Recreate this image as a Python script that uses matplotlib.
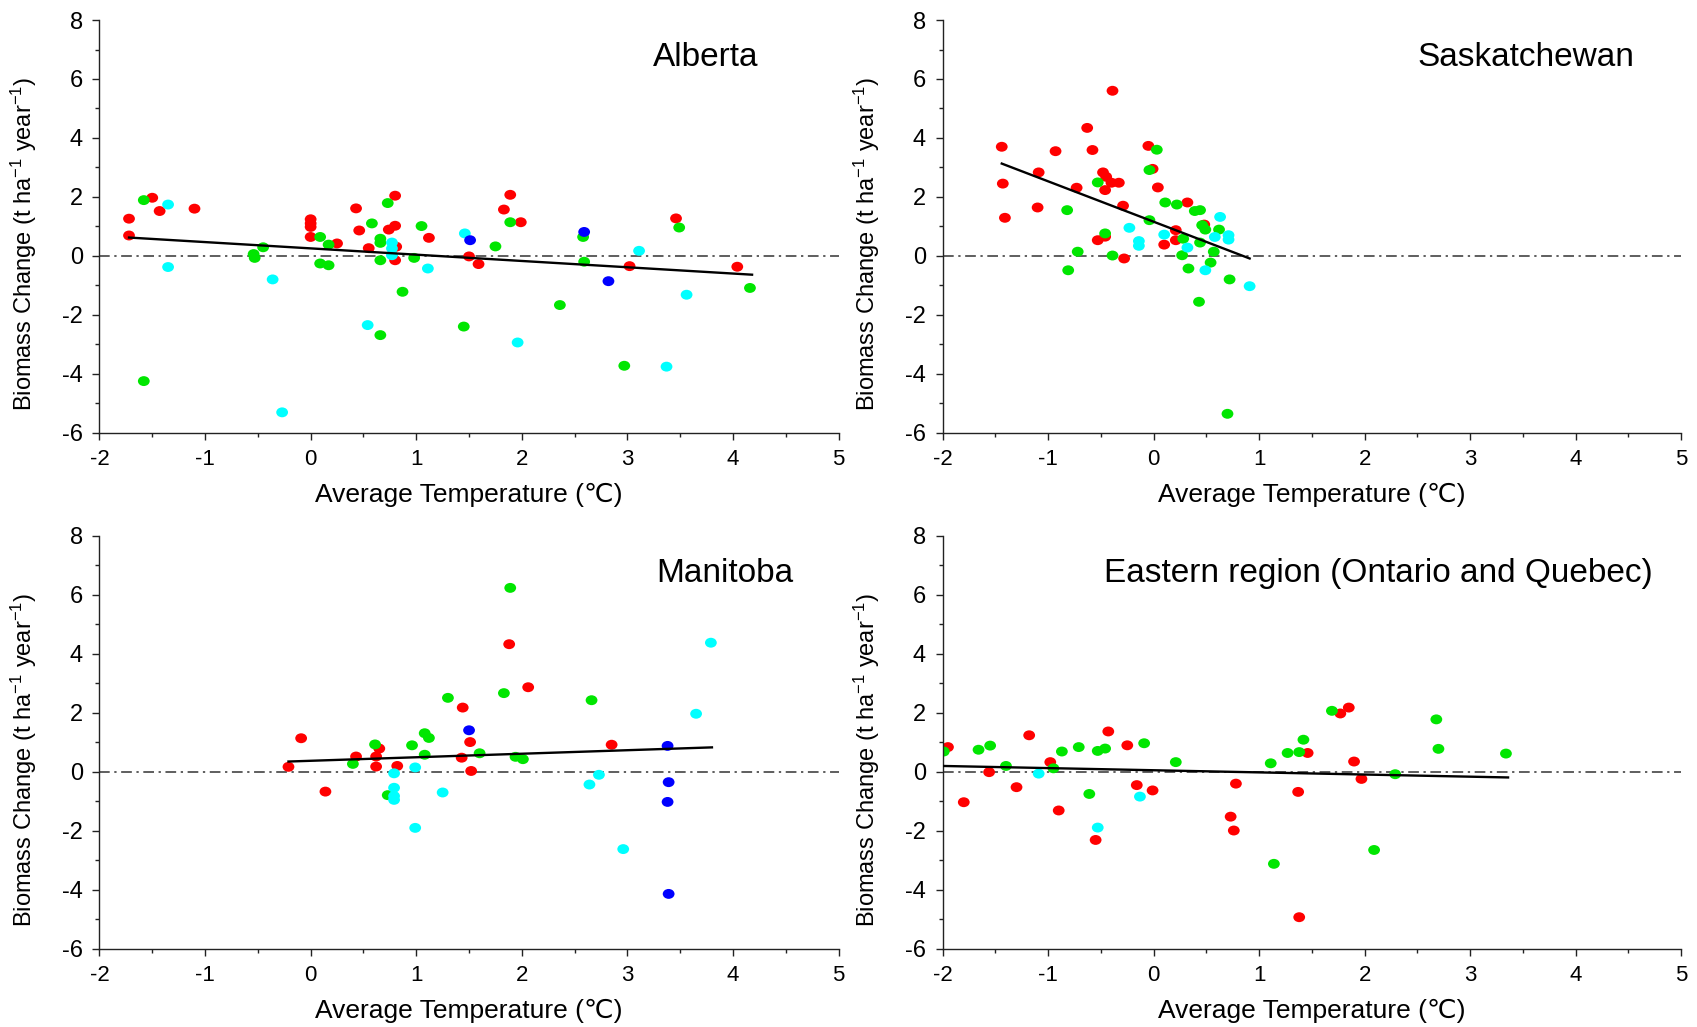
import matplotlib
matplotlib.use("Agg")
import matplotlib.pyplot as plt
from matplotlib.path import Path
from matplotlib.transforms import Affine2D
from matplotlib.ticker import MultipleLocator

plt.rcParams["font.family"] = ["Liberation Sans", "DejaVu Sans"]
plt.rcParams["mathtext.fontset"] = "custom"
plt.rcParams["mathtext.rm"] = "Liberation Sans"
plt.rcParams["mathtext.it"] = "Liberation Sans:italic"
plt.rcParams["axes.unicode_minus"] = False

# --- Alberta ---
ab_red_x = [-1.72, -1.72, -1.50, -1.43, -1.10, 0.00, 0.00, 0.00, 0.00, 0.25, 0.43, 0.46, 0.55, 0.74,
            0.80, 0.80, 0.81, 0.80, 1.12, 1.50, 1.59, 1.83, 1.89, 1.99, 3.02, 3.46, 4.04]
ab_red_y = [1.26, 0.69, 1.97, 1.52, 1.60, 1.24, 1.10, 0.98, 0.64, 0.42, 1.61, 0.86, 0.26, 0.89,
            2.04, 1.02, 0.31, -0.15, 0.61, -0.02, -0.28, 1.57, 2.07, 1.14, -0.35, 1.27, -0.37]
ab_green_x = [-1.58, -1.58, -0.54, -0.53, -0.45, 0.09, 0.09, 0.17, 0.17, 0.58, 0.66, 0.66, 0.66, 0.66,
              0.73, 0.87, 0.98, 1.05, 1.45, 1.75, 1.89, 2.36, 2.58, 2.59, 2.97, 3.49, 4.16]
ab_green_y = [1.89, -4.25, 0.06, -0.07, 0.29, 0.64, -0.26, 0.38, -0.32, 1.10, 0.58, 0.44, -0.15, -2.69,
              1.79, -1.22, -0.07, 1.01, -2.40, 0.32, 1.14, -1.67, 0.64, -0.20, -3.73, 0.96, -1.09]
ab_cyan_x = [-1.35, -1.35, -0.36, -0.27, 0.54, 0.77, 0.77, 0.77, 1.11, 1.46, 1.96, 3.11, 3.37, 3.56]
ab_cyan_y = [1.74, -0.38, -0.80, -5.31, -2.35, 0.45, 0.25, 0.02, -0.43, 0.76, -2.94, 0.17, -3.76, -1.32]
ab_blue_x = [1.51, 2.59, 2.82]
ab_blue_y = [0.53, 0.81, -0.86]
ab_fit_x = [-1.72, 4.18]
ab_fit_y = [0.62, -0.64]

# --- Saskatchewan ---
sk_red_x = [-1.44, -1.43, -1.41, -1.09, -1.10, -0.93, -0.73, -0.63, -0.58, -0.53, -0.48, -0.45, -0.46,
            -0.40, -0.39, -0.33, -0.29, -0.28, -0.05, -0.01, 0.04, 0.10, 0.21, 0.21, 0.32, 0.48, -0.46]
sk_red_y = [3.70, 2.45, 1.29, 2.83, 1.64, 3.55, 2.31, 4.34, 3.59, 0.53, 2.83, 2.68, 2.23,
            2.48, 5.60, 2.48, 1.70, -0.09, 3.73, 2.95, 2.32, 0.38, 0.87, 0.53, 1.81, 1.06, 0.65]
sk_green_x = [-0.82, -0.81, -0.72, -0.53, -0.46, -0.39, -0.04, -0.04, 0.03, 0.11, 0.22, 0.27, 0.28,
              0.33, 0.39, 0.44, 0.43, 0.44, 0.46, 0.49, 0.54, 0.57, 0.62, 0.72, 0.70]
sk_green_y = [1.55, -0.49, 0.14, 2.49, 0.76, 0.01, 2.91, 1.21, 3.60, 1.81, 1.74, 0.02, 0.58,
              -0.43, 1.52, 1.55, -1.56, 0.45, 1.04, 0.89, -0.23, 0.14, 0.89, -0.80, -5.36]
sk_cyan_x = [-0.23, -0.14, -0.14, 0.10, 0.32, 0.49, 0.63, 0.58, 0.71, 0.71, 0.91]
sk_cyan_y = [0.95, 0.50, 0.34, 0.72, 0.28, -0.49, 1.32, 0.64, 0.70, 0.55, -1.03]
sk_blue_x = []
sk_blue_y = []
sk_fit_x = [-1.44, 0.91]
sk_fit_y = [3.13, -0.09]

# --- Manitoba ---
mb_red_x = [-0.21, -0.09, 0.14, 0.43, 0.62, 0.65, 0.62, 0.82, 1.44, 1.43, 1.51, 1.52, 1.88, 2.06, 2.85]
mb_red_y = [0.17, 1.14, -0.67, 0.52, 0.52, 0.79, 0.18, 0.20, 2.18, 0.48, 1.01, 0.03, 4.33, 2.87, 0.92]
mb_green_x = [0.40, 0.61, 0.73, 0.96, 1.08, 1.12, 1.08, 1.30, 1.60, 1.83, 1.89, 1.94, 2.01, 2.66]
mb_green_y = [0.27, 0.93, -0.79, 0.90, 1.31, 1.15, 0.58, 2.51, 0.63, 2.67, 6.24, 0.51, 0.43, 2.43]
mb_cyan_x = [0.79, 0.79, 0.79, 0.79, 0.99, 0.99, 1.25, 2.64, 2.73, 2.96, 3.65, 3.79]
mb_cyan_y = [-0.05, -0.54, -0.82, -0.95, 0.15, -1.90, -0.70, -0.43, -0.10, -2.62, 1.97, 4.38]
mb_blue_x = [1.50, 3.38, 3.39, 3.38, 3.39]
mb_blue_y = [1.41, 0.88, -0.35, -1.02, -4.14]
mb_fit_x = [-0.21, 3.80]
mb_fit_y = [0.35, 0.83]

# --- Eastern region ---
er_red_x = [-1.95, -1.80, -1.56, -1.30, -1.18, -0.98, -0.90, -0.55, -0.43, -0.25, -0.16, -0.01,
            0.73, 0.76, 0.78, 1.37, 1.38, 1.46, 1.77, 1.85, 1.90, 1.97]
er_red_y = [0.84, -1.03, -0.01, -0.52, 1.24, 0.33, -1.31, -2.31, 1.37, 0.90, -0.45, -0.63,
            -1.52, -1.99, -0.40, -0.68, -4.93, 0.64, 1.98, 2.18, 0.35, -0.24]
er_green_x = [-1.99, -1.66, -1.55, -1.40, -0.95, -0.87, -0.71, -0.61, -0.53, -0.46, -0.09, 0.21,
              1.11, 1.14, 1.27, 1.38, 1.42, 1.69, 2.09, 2.29, 2.68, 2.70, 3.34]
er_green_y = [0.69, 0.75, 0.89, 0.20, 0.12, 0.69, 0.84, -0.75, 0.71, 0.79, 0.97, 0.33,
              0.29, -3.12, 0.64, 0.67, 1.09, 2.07, -2.65, -0.08, 1.78, 0.78, 0.62]
er_cyan_x = [-1.09, -0.13, -0.53]
er_cyan_y = [-0.06, -0.84, -1.89]
er_blue_x = []
er_blue_y = []
er_fit_x = [-2.00, 3.36]
er_fit_y = [0.20, -0.19]

RED, GREEN, CYAN, BLUE = "#ff0000", "#00e600", "#00ffff", "#0000ff"

fig = plt.figure(figsize=(16.97, 10.27), dpi=100)
ax_ab = fig.add_axes([0.0586, 0.5787, 0.4356, 0.4018])
ax_sk = fig.add_axes([0.5555, 0.5787, 0.4351, 0.4018])
ax_mb = fig.add_axes([0.0586, 0.0762, 0.4356, 0.4019])
ax_er = fig.add_axes([0.5555, 0.0762, 0.4351, 0.4019])

# Origin-style slightly flattened dots
ellipse = Path.unit_circle().transformed(Affine2D().scale(1.0, 0.84))

panels = [
    (ax_ab, "Alberta", 3.24,
     [(ab_red_x, ab_red_y, RED), (ab_green_x, ab_green_y, GREEN),
      (ab_cyan_x, ab_cyan_y, CYAN), (ab_blue_x, ab_blue_y, BLUE)], ab_fit_x, ab_fit_y),
    (ax_sk, "Saskatchewan", 2.50,
     [(sk_red_x, sk_red_y, RED), (sk_green_x, sk_green_y, GREEN),
      (sk_cyan_x, sk_cyan_y, CYAN), (sk_blue_x, sk_blue_y, BLUE)], sk_fit_x, sk_fit_y),
    (ax_mb, "Manitoba", 3.27,
     [(mb_red_x, mb_red_y, RED), (mb_green_x, mb_green_y, GREEN),
      (mb_cyan_x, mb_cyan_y, CYAN), (mb_blue_x, mb_blue_y, BLUE)], mb_fit_x, mb_fit_y),
    (ax_er, "Eastern region (Ontario and Quebec)", -0.47,
     [(er_red_x, er_red_y, RED), (er_green_x, er_green_y, GREEN),
      (er_cyan_x, er_cyan_y, CYAN), (er_blue_x, er_blue_y, BLUE)], er_fit_x, er_fit_y),
]

for ax, name, title_x, groups, fit_x, fit_y in panels:
    ax.axhline(0, color="#333333", lw=1.1, ls=(0, (7, 3, 1.5, 3)), zorder=1)
    for xs, ys, c in groups:
        if xs:
            ax.scatter(xs, ys, s=72, marker=ellipse, color=c, edgecolors="none", zorder=2)
    ax.plot(fit_x, fit_y, color="black", lw=1.7, zorder=3)

    ax.set_xlim(-2, 5)
    ax.set_ylim(-6, 8)
    ax.set_xticks(range(-2, 6))
    ax.set_yticks(range(-6, 9, 2))
    ax.xaxis.set_minor_locator(MultipleLocator(0.5))
    ax.yaxis.set_minor_locator(MultipleLocator(1))
    ax.spines["top"].set_visible(False)
    ax.spines["right"].set_visible(False)
    for s in ("left", "bottom"):
        ax.spines[s].set_linewidth(1.0)
        ax.spines[s].set_color("#222222")
    ax.tick_params(which="major", direction="out", length=5, width=1.0,
                   color="#222222", pad=7)
    ax.tick_params(which="minor", direction="out", length=3, width=1.0, color="#222222")
    ax.tick_params(axis="x", labelsize=16)
    ax.tick_params(axis="y", labelsize=17)

    ax.set_xlabel("Average Temperature (℃)", fontsize=19)
    ax.set_ylabel(r"Biomass Change (t ha$^{-1}$ year$^{-1}$)", fontsize=17)
    ax.xaxis.set_label_coords(0.5, -0.122)
    ax.yaxis.set_label_coords(-0.082, 0.457)

    ax.text(title_x, 6.45, name, fontsize=24, ha="left", va="baseline")

fig.savefig("out.png", dpi=100)
